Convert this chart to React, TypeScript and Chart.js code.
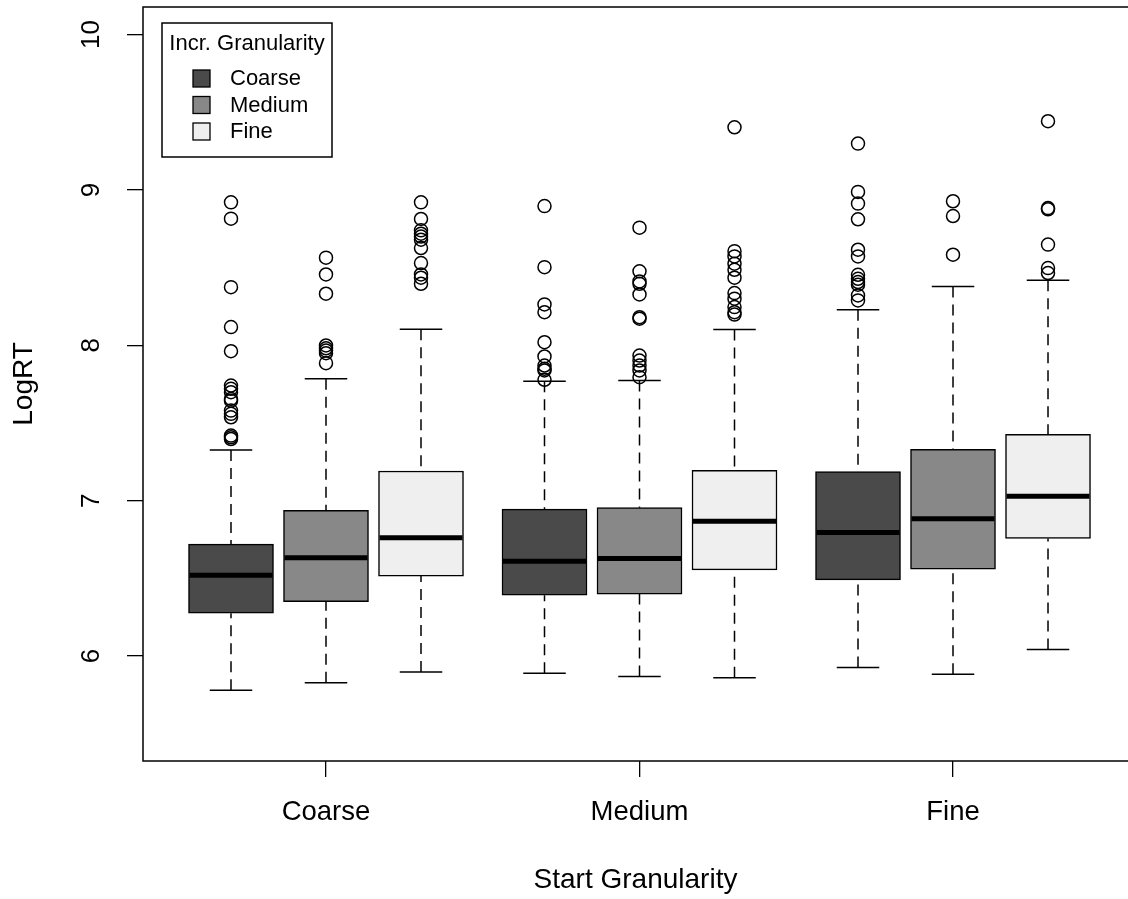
import React, { useEffect, useRef } from 'react';
import { Chart, registerables } from 'chart.js';

Chart.register(...registerables);

// ---------------- data ----------------
const START_CATEGORIES = ['Coarse', 'Medium', 'Fine'];
const INCR_LABELS = ['Coarse', 'Medium', 'Fine'];
const Y_TICKS = [6, 7, 8, 9, 10];

// Incr. Granularity = Coarse (one value per start granularity: Coarse, Medium, Fine)
const coarseLower = [5.78, 5.89, 5.926];
const coarseQ1 = [6.276, 6.392, 6.491];
const coarseMedian = [6.521, 6.611, 6.796];
const coarseQ3 = [6.721, 6.946, 7.187];
const coarseUpper = [7.327, 7.769, 8.229];
const coarseOutliers = [
  [8.92, 8.815, 8.374, 8.117, 7.962, 7.741, 7.72, 7.698, 7.655, 7.644, 7.58, 7.559, 7.537, 7.419, 7.408, 7.397],
  [8.896, 8.503, 8.263, 8.213, 8.02, 7.928, 7.87, 7.849, 7.838, 7.778],
  [9.298, 8.987, 8.912, 8.811, 8.615, 8.572, 8.454, 8.428, 8.407, 8.39, 8.321, 8.289],
];

// Incr. Granularity = Medium
const mediumLower = [5.829, 5.868, 5.883];
const mediumQ1 = [6.351, 6.399, 6.56];
const mediumMedian = [6.633, 6.628, 6.884];
const mediumQ3 = [6.938, 6.955, 7.331];
const mediumUpper = [7.784, 7.773, 8.379];
const mediumOutliers = [
  [8.564, 8.456, 8.332, 7.999, 7.981, 7.966, 7.949, 7.885],
  [8.757, 8.476, 8.411, 8.396, 8.327, 8.181, 8.171, 7.934, 7.902, 7.87, 7.838, 7.795],
  [8.927, 8.832, 8.583],
];

// Incr. Granularity = Fine
const fineLower = [5.898, 5.86, 6.042];
const fineQ1 = [6.515, 6.555, 6.757];
const fineMedian = [6.762, 6.867, 7.028];
const fineQ3 = [7.191, 7.195, 7.427];
const fineUpper = [8.104, 8.102, 8.418];
const fineOutliers = [
  [8.92, 8.813, 8.74, 8.718, 8.7, 8.68, 8.626, 8.529, 8.456, 8.435, 8.396],
  [9.403, 8.606, 8.572, 8.525, 8.486, 8.435, 8.336, 8.3, 8.246, 8.213, 8.198],
  [9.442, 8.883, 8.875, 8.648, 8.497, 8.465],
];

// ---------------- layout / style ----------------
const GROUP_CENTERS = [2, 5.3, 8.6];
const SERIES_OFFSETS = [-1, 0, 1];
const FILLS = ['#4a4a4a', '#888888', '#efefef'];
const FONT = "'Liberation Sans', Arial, Helvetica, sans-serif";
const BOX_PX = 85;

const SERIES = [
  { label: INCR_LABELS[0], lower: coarseLower, q1: coarseQ1, median: coarseMedian, q3: coarseQ3, upper: coarseUpper, outliers: coarseOutliers },
  { label: INCR_LABELS[1], lower: mediumLower, q1: mediumQ1, median: mediumMedian, q3: mediumQ3, upper: mediumUpper, outliers: mediumOutliers },
  { label: INCR_LABELS[2], lower: fineLower, q1: fineQ1, median: fineMedian, q3: fineQ3, upper: fineUpper, outliers: fineOutliers },
];

const zeroPadding = (axis: any) => {
  axis.paddingTop = 0;
  axis.paddingBottom = 0;
  axis.paddingLeft = 0;
  axis.paddingRight = 0;
};

const boxPartsPlugin = {
  id: 'boxParts',
  beforeDatasetsDraw(chart: any) {
    const { ctx, scales } = chart;
    const x = scales.x;
    const y = scales.y;
    ctx.save();
    ctx.strokeStyle = '#000';
    ctx.lineWidth = 1.5;
    SERIES.forEach((s, si) => {
      s.q1.forEach((_: number, g: number) => {
        const px = x.getPixelForValue(GROUP_CENTERS[g] + SERIES_OFFSETS[si]);
        const yUp = y.getPixelForValue(s.upper[g]);
        const yLo = y.getPixelForValue(s.lower[g]);
        const yQ1 = y.getPixelForValue(s.q1[g]);
        const yQ3 = y.getPixelForValue(s.q3[g]);
        ctx.setLineDash([11, 7]);
        ctx.beginPath();
        ctx.moveTo(px, yUp);
        ctx.lineTo(px, yQ3);
        ctx.moveTo(px, yLo);
        ctx.lineTo(px, yQ1);
        ctx.stroke();
        ctx.setLineDash([]);
        const half = BOX_PX / 4;
        ctx.beginPath();
        ctx.moveTo(px - half, yUp);
        ctx.lineTo(px + half, yUp);
        ctx.moveTo(px - half, yLo);
        ctx.lineTo(px + half, yLo);
        ctx.stroke();
      });
    });
    ctx.restore();
  },
  afterDatasetsDraw(chart: any) {
    const { ctx, scales } = chart;
    const y = scales.y;
    ctx.save();
    ctx.strokeStyle = '#000';
    ctx.lineWidth = 5;
    ctx.lineCap = 'butt';
    SERIES.forEach((s, si) => {
      const meta = chart.getDatasetMeta(si);
      meta.data.forEach((el: any, g: number) => {
        const { x: ex, width } = el.getProps(['x', 'width'], true);
        const py = y.getPixelForValue(s.median[g]);
        ctx.beginPath();
        ctx.moveTo(ex - width / 2 + 1, py);
        ctx.lineTo(ex + width / 2 - 1, py);
        ctx.stroke();
      });
    });
    ctx.restore();
  },
};

const framePlugin = {
  id: 'frameAndLegend',
  afterDraw(chart: any) {
    const { ctx, chartArea } = chart;
    ctx.save();
    ctx.strokeStyle = '#000';
    ctx.lineWidth = 1.5;
    // plot frame (its right side falls just outside the canvas, as in the reference)
    ctx.strokeRect(chartArea.left, chartArea.top, chartArea.right - chartArea.left + 4, chartArea.bottom - chartArea.top);

    // legend box (R style)
    const lx = chartArea.left + 19;
    const ly = chartArea.top + 16;
    const lw = 170;
    const lh = 134;
    ctx.fillStyle = '#fff';
    ctx.fillRect(lx, ly, lw, lh);
    ctx.strokeRect(lx, ly, lw, lh);
    ctx.fillStyle = '#000';
    ctx.font = `22px ${FONT}`;
    ctx.textAlign = 'center';
    ctx.textBaseline = 'middle';
    ctx.fillText('Incr. Granularity', lx + lw / 2, ly + 21);
    const bars = chart.data.datasets.filter((d: any) => d.type === 'bar');
    bars.forEach((d: any, i: number) => {
      const cy = ly + 55 + i * 26.5;
      ctx.fillStyle = d.backgroundColor;
      ctx.fillRect(lx + 31, cy - 8, 17, 17);
      ctx.lineWidth = 1.3;
      ctx.strokeStyle = '#000';
      ctx.strokeRect(lx + 31, cy - 8, 17, 17);
      ctx.fillStyle = '#000';
      ctx.textAlign = 'left';
      ctx.fillText(d.label, lx + 68, cy + 1);
    });
    ctx.restore();
  },
};

export default function App() {
  const canvasRef = useRef<HTMLCanvasElement | null>(null);

  useEffect(() => {
    if (!canvasRef.current) return;
    const datasets: any[] = [];
    SERIES.forEach((s, si) => {
      datasets.push({
        type: 'bar',
        label: s.label,
        data: START_CATEGORIES.map((_, g) => ({ x: GROUP_CENTERS[g] + SERIES_OFFSETS[si], y: [s.q1[g], s.q3[g]] })),
        backgroundColor: FILLS[si],
        borderColor: '#000',
        borderWidth: 1.5,
        borderSkipped: false,
        barThickness: BOX_PX,
        grouped: false,
      });
    });
    SERIES.forEach((s, si) => {
      const pts: { x: number; y: number }[] = [];
      s.outliers.forEach((arr: number[], g: number) => {
        arr.forEach((v) => pts.push({ x: GROUP_CENTERS[g] + SERIES_OFFSETS[si], y: v }));
      });
      datasets.push({
        type: 'scatter',
        label: s.label + ' outliers',
        data: pts,
        pointRadius: 6.5,
        pointHoverRadius: 6.5,
        pointBorderWidth: 1.5,
        pointBorderColor: '#000',
        pointBackgroundColor: 'rgba(0,0,0,0)',
        showLine: false,
      });
    });

    const chart = new Chart(canvasRef.current, {
      type: 'bar',
      data: { datasets },
      plugins: [boxPartsPlugin, framePlugin],
      options: {
        animation: false,
        responsive: false,
        devicePixelRatio: 1,
        events: [],
        layout: { padding: { top: 7, left: 0, right: 0, bottom: 0 }, autoPadding: false },
        plugins: { legend: { display: false }, tooltip: { enabled: false } },
        scales: {
          x: {
            type: 'linear',
            offset: false,
            min: 0.0737,
            max: 10.442,
            afterBuildTicks: (axis: any) => {
              axis.ticks = GROUP_CENTERS.map((v) => ({ value: v }));
            },
            afterFit: (axis: any) => {
              axis.height = 138;
              zeroPadding(axis);
            },
            border: { display: false },
            grid: { display: true, offset: false, drawOnChartArea: false, drawTicks: true, tickLength: 16, color: '#000', lineWidth: 1.3 },
            ticks: {
              color: '#000',
              font: { family: FONT, size: 27.5 },
              padding: 18.5,
              maxRotation: 0,
              autoSkip: false,
              callback: (_v: any, i: number) => START_CATEGORIES[i],
            },
            title: {
              display: true,
              text: 'Start Granularity',
              color: '#000',
              font: { family: FONT, size: 28 },
              padding: { top: 0, bottom: 2.2 },
            },
          },
          y: {
            type: 'linear',
            position: 'left',
            min: 5.325,
            max: 10.177,
            afterBuildTicks: (axis: any) => {
              axis.ticks = Y_TICKS.map((v) => ({ value: v }));
            },
            afterFit: (axis: any) => {
              axis.width = 143;
              zeroPadding(axis);
            },
            border: { display: false },
            grid: { display: true, drawOnChartArea: false, drawTicks: true, tickLength: 16, color: '#000', lineWidth: 1.3 },
            ticks: {
              color: '#000',
              font: { family: FONT, size: 26 },
              padding: 21,
              minRotation: 90,
              maxRotation: 90,
              crossAlign: 'center',
              autoSkip: false,
            },
            title: {
              display: true,
              text: 'LogRT',
              color: '#000',
              font: { family: FONT, size: 28 },
              padding: { top: 7.2, bottom: 0 },
            },
          },
        },
      } as any,
    });
    return () => chart.destroy();
  }, []);

  return (
    <div style={{ position: 'fixed', left: 0, top: 0, width: 1128, height: 899, background: '#fff' }}>
      <canvas ref={canvasRef} width={1128} height={899} style={{ display: 'block' }} />
    </div>
  );
}
